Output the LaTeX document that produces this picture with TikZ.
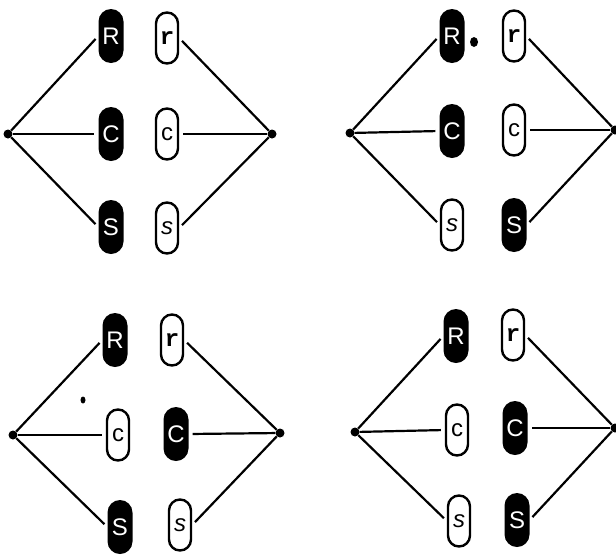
\documentclass[tikz,border=0pt]{standalone}
\usepackage{fontspec}
\usepackage{tikz}
\newfontfamily\pillsans{Liberation Sans}
\newfontfamily\pillmono{Liberation Mono}

\begin{document}
\begin{tikzpicture}[
  x=1pt, y=-1pt,
  pill/.style={rounded corners=12.5pt, minimum width=25pt, minimum height=54pt,
               inner sep=0pt, font=\pillsans\fontsize{24}{24}\selectfont},
  dom/.style={pill, fill=black, text=white},
  rec/.style={pill, draw=black, line width=2.4pt, fill=white, text=black,
              rounded corners=11pt, minimum width=22pt, minimum height=51pt},
  hub/.style={circle, fill=black, inner sep=0pt, minimum size=9pt},
  link/.style={line width=2.2pt, shorten >=4pt}
]
  \useasboundingbox (0,0) rectangle (616,555);

  % top left
  \node[hub] (hubL1) at (8,134) {};
  \node[hub] (hubR1) at (272,134) {};
  \node[dom] (R1) at (111,36) {R};
  \node[rec, font=\pillmono\bfseries\fontsize{24}{24}\selectfont] (r1) at (167,38) {r};
  \node[dom] (C1) at (111,134) {C};
  \node[rec] (c1) at (167,134) {c};
  \node[dom] (S1) at (111,227) {S};
  \node[rec, font=\pillsans\itshape\fontsize{24}{24}\selectfont] (s1) at (167,228) {s};
  \draw[link] (hubL1) -- (R1.west);
  \draw[link] (hubL1) -- (C1.west);
  \draw[link] (hubL1) -- (S1.west);
  \draw[link] (hubR1) -- (r1.east);
  \draw[link] (hubR1) -- (c1.east);
  \draw[link] (hubR1) -- (s1.east);

  % top right
  \node[hub] (hubL2) at (350,133) {};
  \node[hub] (hubR2) at (615,130) {};
  \node[dom] (R2) at (452,36) {R};
  \node[rec, font=\pillmono\bfseries\fontsize{24}{24}\selectfont] (r2) at (514,36) {r};
  \node[dom] (C2) at (452,131) {C};
  \node[rec] (c2) at (514,130) {c};
  \node[rec, font=\pillsans\itshape\fontsize{24}{24}\selectfont] (s2) at (452,225) {s};
  \node[dom] (S2) at (514,225) {S};
  \draw[link] (hubL2) -- (R2.west);
  \draw[link] (hubL2) -- (C2.west);
  \draw[link] (hubL2) -- (s2.west);
  \draw[link] (hubR2) -- (r2.east);
  \draw[link] (hubR2) -- (c2.east);
  \draw[link] (hubR2) -- (S2.east);
  \fill (474,42) ellipse (4pt and 5pt);

  % bottom left
  \node[hub] (hubL3) at (13,435) {};
  \node[hub] (hubR3) at (280,433) {};
  \node[dom] (R3) at (115,340) {R};
  \node[rec, font=\pillmono\bfseries\fontsize{24}{24}\selectfont] (r3) at (172,340) {r};
  \node[rec] (c3) at (118,435) {c};
  \node[dom] (C3) at (176,434) {C};
  \node[dom] (S3) at (120,527) {S};
  \node[rec, font=\pillsans\itshape\fontsize{24}{24}\selectfont] (s3) at (180,525) {s};
  \draw[link] (hubL3) -- (R3.west);
  \draw[link] (hubL3) -- (c3.west);
  \draw[link] (hubL3) -- (S3.west);
  \draw[link] (hubR3) -- (r3.east);
  \draw[link] (hubR3) -- (C3.east);
  \draw[link] (hubR3) -- (s3.east);
  \fill (83,400) ellipse (2.5pt and 3.5pt);

  % bottom right
  \node[hub] (hubL4) at (355,432) {};
  \node[hub] (hubR4) at (615,428) {};
  \node[dom] (R4) at (456,336) {R};
  \node[rec, font=\pillmono\bfseries\fontsize{24}{24}\selectfont] (r4) at (513,335) {r};
  \node[rec] (c4) at (457,430) {c};
  \node[dom] (C4) at (515,428) {C};
  \node[rec, font=\pillsans\itshape\fontsize{24}{24}\selectfont] (s4) at (459,521) {s};
  \node[dom] (S4) at (517,520) {S};
  \draw[link] (hubL4) -- (R4.west);
  \draw[link] (hubL4) -- (c4.west);
  \draw[link] (hubL4) -- (s4.west);
  \draw[link] (hubR4) -- (r4.east);
  \draw[link] (hubR4) -- (C4.east);
  \draw[link] (hubR4) -- (S4.east);
\end{tikzpicture}
\end{document}
